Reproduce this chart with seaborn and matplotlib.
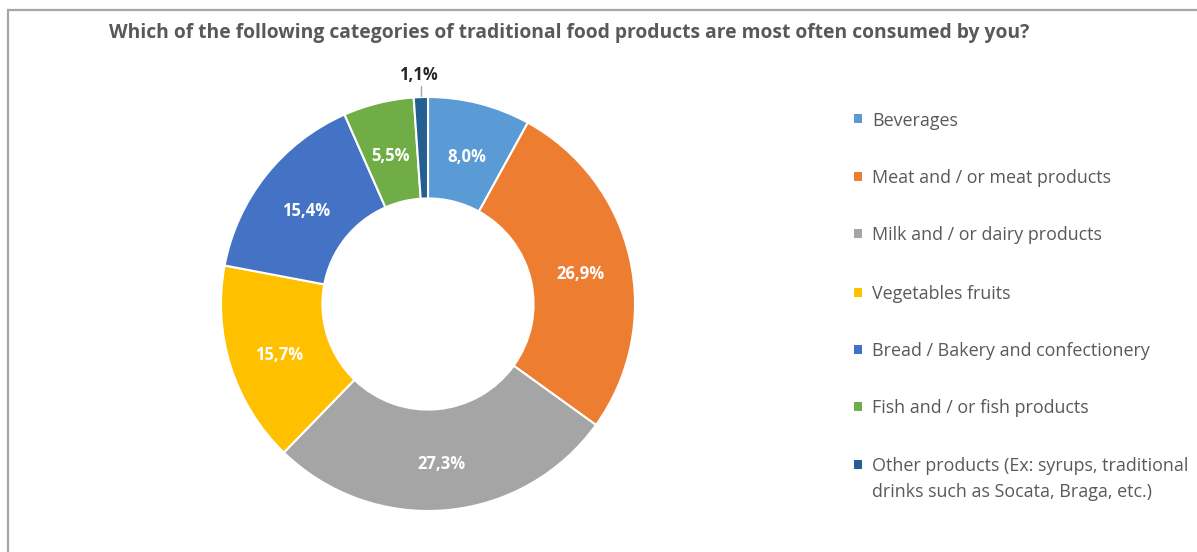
import numpy as np
import matplotlib
matplotlib.use("Agg")
import matplotlib.pyplot as plt
from matplotlib.patches import Rectangle
import seaborn as sns

# Survey shares (%) of most often consumed traditional food categories
categories = [
    "Beverages",
    "Meat and / or meat products",
    "Milk and / or dairy products",
    "Vegetables fruits",
    "Bread / Bakery and confectionery",
    "Fish and / or fish products",
    "Other products (Ex: syrups, traditional\ndrinks such as Socata, Braga, etc.)",
]
shares = [8.0, 26.9, 27.3, 15.7, 15.4, 5.5, 1.1]
share_labels = ["8,0%", "26,9%", "27,3%", "15,7%", "15,4%", "5,5%", "1,1%"]
colors = ["#5B9BD5", "#ED7D31", "#A5A5A5", "#FFC000", "#4472C4", "#70AD47", "#255E91"]

title = "Which of the following categories of traditional food products are most often consumed by you?"

sns.set_theme(style="white")
plt.rcParams["font.family"] = ["Open Sans", "DejaVu Sans"]
palette = sns.color_palette(colors)

W, H = 1197, 552
fig = plt.figure(figsize=(W / 100, H / 100), dpi=100)
fig.patch.set_facecolor("white")

# chart frame (open to the right and bottom)
fig.patches.append(Rectangle((8 / W, -0.05), 1.2, (H - 10) / H + 0.05,
                             transform=fig.transFigure, fill=False,
                             edgecolor="#A6A6A6", linewidth=1.6, zorder=0))

# donut axes: centre (428, 304) px, outer radius 207 px
cx, cy, R = 428, 304, 207
lim = 1.1
side = 2 * lim * R
ax = fig.add_axes([(cx - side / 2) / W, (H - cy - side / 2) / H, side / W, side / H])

ring = 0.49
wedges, _ = ax.pie(shares, colors=palette, startangle=90, counterclock=False,
                   radius=1.0, wedgeprops=dict(width=ring, edgecolor="white", linewidth=1.5))
ax.set_xlim(-lim, lim)
ax.set_ylim(-lim, lim)
ax.set_aspect("equal")
ax.axis("off")

# value labels at the middle of the ring
mid_r = 1.0 - ring / 2
for i, w in enumerate(wedges):
    ang = np.deg2rad((w.theta1 + w.theta2) / 2)
    if shares[i] < 3:
        # small slice: label outside with a leader line
        x0, y0 = np.cos(ang), np.sin(ang)
        ax.plot([x0, x0], [y0 + 0.005, y0 + 0.055], color="#A6A6A6", lw=1.0)
        ax.text(x0 - 0.01, y0 + 0.105, share_labels[i], ha="center", va="center",
                fontsize=12, fontweight="bold", color="#262626")
    else:
        ax.text(mid_r * np.cos(ang), mid_r * np.sin(ang) - 0.02, share_labels[i],
                ha="center", va="center", fontsize=12, fontweight="bold", color="white")

fig.text(569 / W, 1 - 33 / H, title, ha="center", va="center",
         fontsize=13.9, fontweight="bold", color="#595959")

# legend
row_y = [119, 176, 233, 292, 349, 406, 464]
sq = 9
for name, col, y in zip(categories, palette, row_y):
    fig.patches.append(Rectangle(((858 - sq / 2) / W, 1 - (y + sq / 2) / H), sq / W, sq / H,
                                 transform=fig.transFigure, facecolor=col, edgecolor="none"))
    fig.text(872 / W, 1 - (y - 7) / H, name, ha="left", va="top", fontsize=12.9,
             color="#595959", linespacing=1.55)

fig.savefig("out.png", dpi=100, facecolor="white")
